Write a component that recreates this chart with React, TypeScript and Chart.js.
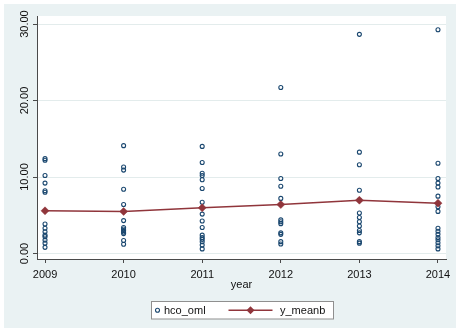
import React, { useEffect, useRef } from "react";
import { Chart, registerables } from "chart.js";

Chart.register(...registerables);

// Survey years on the x axis
const years = [2009, 2010, 2011, 2012, 2013, 2014];

// hco_oml observations, one list per year
const hco2009 = [12.4, 12.2, 10.2, 9.2, 8.2, 8.0, 3.85, 3.3, 2.85, 2.4, 2.2, 1.75, 1.35, 0.8];
const hco2010 = [14.1, 11.3, 10.9, 8.4, 6.4, 4.3, 3.4, 3.2, 3.0, 2.8, 2.6, 1.7, 1.2];
const hco2011 = [14.0, 11.9, 10.5, 10.2, 9.65, 8.5, 6.7, 5.15, 4.25, 3.4, 2.4, 2.1, 1.85, 1.55, 1.1, 0.6];
const hco2012 = [21.7, 13.0, 9.8, 8.8, 7.2, 4.4, 4.15, 3.9, 2.7, 2.5, 1.55, 1.25];
const hco2013 = [28.65, 13.25, 11.6, 8.27, 7.0, 5.3, 4.7, 4.15, 3.6, 3.0, 2.7, 1.55, 1.35];
const hco2014 = [29.25, 11.8, 9.8, 9.2, 8.7, 7.5, 6.1, 5.5, 3.3, 2.9, 2.5, 2.1, 1.8, 1.4, 1.0, 0.6];
const hcoByYear = [hco2009, hco2010, hco2011, hco2012, hco2013, hco2014];

// Yearly mean line
const yMeanb = [5.58, 5.5, 5.97, 6.4, 6.97, 6.58];

// Axis ticks and labels
const yTicks = [0, 10, 20, 30];
const yTickLabels = ["0.00", "10.00", "20.00", "30.00"];
const xTitle = "year";
const seriesLabels = ["hco_oml", "y_meanb"];

const FONT = '"Liberation Sans", Arial, Helvetica, sans-serif';
const AXIS = "#4a4a4a";
const NAVY = "#1a476f";
const MAROON = "#90353b";
const OUTER_BG = "#eaf2f3";
const GRID = "#e3ecec";

const framePlugin = {
  id: "frame",
  beforeDraw(chart: any) {
    const { ctx, chartArea: a, width, height } = chart;
    ctx.save();
    ctx.fillStyle = "#ffffff";
    ctx.fillRect(0, 0, width, height);
    ctx.fillStyle = OUTER_BG;
    ctx.fillRect(4, 4, width - 4, height - 9);
    ctx.fillStyle = "#ffffff";
    ctx.fillRect(a.left, a.top, a.right - a.left, a.bottom - a.top);
    ctx.restore();
  },
  afterDraw(chart: any) {
    const { ctx, chartArea: a, scales } = chart;
    const xs = scales.x;
    const ys = scales.y;
    ctx.save();
    ctx.fillStyle = "#111111";
    ctx.font = `11px ${FONT}`;

    // rotated y tick labels
    yTicks.forEach((v, i) => {
      ctx.save();
      ctx.translate(a.left - 8.7, ys.getPixelForValue(v));
      ctx.rotate(-Math.PI / 2);
      ctx.textAlign = "center";
      ctx.textBaseline = "alphabetic";
      ctx.fillText(yTickLabels[i], 0, 0);
      ctx.restore();
    });

    // x tick labels and axis title
    ctx.textAlign = "center";
    ctx.textBaseline = "alphabetic";
    years.forEach((v) => {
      ctx.fillText(String(v), xs.getPixelForValue(v), a.bottom + 19);
    });
    ctx.fillText(xTitle, (a.left + a.right) / 2, a.bottom + 29);

    // legend box
    const boxW = 182;
    const boxH = 17.5;
    const bx = Math.round((a.left + a.right) / 2 - boxW / 2) + 0.5;
    const by = 301.5;
    ctx.fillStyle = "#ffffff";
    ctx.fillRect(bx, by, boxW, boxH);
    ctx.strokeStyle = "#8f8f8f";
    ctx.lineWidth = 1;
    ctx.strokeRect(bx, by, boxW, boxH);
    const cy = by + boxH / 2;

    // hco_oml key
    ctx.beginPath();
    ctx.arc(bx + 6, cy, 2, 0, Math.PI * 2);
    ctx.strokeStyle = NAVY;
    ctx.lineWidth = 1.1;
    ctx.stroke();

    // y_meanb key
    ctx.beginPath();
    ctx.moveTo(bx + 77, cy);
    ctx.lineTo(bx + 121, cy);
    ctx.strokeStyle = MAROON;
    ctx.lineWidth = 1.5;
    ctx.stroke();
    const dx = bx + 99;
    ctx.beginPath();
    ctx.moveTo(dx, cy - 4);
    ctx.lineTo(dx + 4, cy);
    ctx.lineTo(dx, cy + 4);
    ctx.lineTo(dx - 4, cy);
    ctx.closePath();
    ctx.fillStyle = MAROON;
    ctx.fill();

    ctx.fillStyle = "#111111";
    ctx.textAlign = "left";
    ctx.fillText(seriesLabels[0], bx + 12.5, cy + 3.8);
    ctx.fillText(seriesLabels[1], bx + 128.5, cy + 3.8);
    ctx.restore();
  },
};

export default function App() {
  const canvasRef = useRef<HTMLCanvasElement | null>(null);

  useEffect(() => {
    const canvas = canvasRef.current;
    if (!canvas) return;

    const scatterPoints: { x: number; y: number }[] = [];
    hcoByYear.forEach((vals, i) => {
      vals.forEach((v) => scatterPoints.push({ x: years[i], y: v }));
    });
    const meanPoints = years.map((x, i) => ({ x, y: yMeanb[i] }));

    const chart = new Chart(canvas, {
      type: "scatter",
      data: {
        datasets: [
          {
            type: "scatter",
            label: seriesLabels[0],
            data: scatterPoints,
            pointStyle: "circle",
            pointRadius: 2,
            pointBorderWidth: 1.1,
            pointBorderColor: NAVY,
            pointBackgroundColor: "rgba(0,0,0,0)",
            order: 1,
          } as any,
          {
            type: "line",
            label: seriesLabels[1],
            data: meanPoints,
            borderColor: MAROON,
            borderWidth: 1.5,
            tension: 0,
            fill: false,
            pointStyle: "rectRot",
            pointRadius: 4,
            pointBorderWidth: 0.5,
            pointBorderColor: MAROON,
            pointBackgroundColor: MAROON,
            order: 0,
          } as any,
        ],
      },
      options: {
        responsive: false,
        animation: false,
        events: [],
        layout: { padding: { left: 0, top: 16, right: 10, bottom: 0 } },
        plugins: {
          legend: { display: false },
          tooltip: { enabled: false },
        },
        scales: {
          x: {
            type: "linear",
            min: 2008.898,
            max: 2014.102,
            afterBuildTicks: (s: any) => {
              s.ticks = years.map((v) => ({ value: v }));
            },
            afterFit: (s: any) => {
              s.height = 74;
            },
            ticks: { display: false },
            grid: {
              drawOnChartArea: false,
              drawTicks: true,
              tickLength: 4,
              tickColor: AXIS,
              tickWidth: 1,
            },
            border: { display: true, color: AXIS, width: 1 },
          },
          y: {
            type: "linear",
            min: -0.72,
            max: 31.05,
            afterBuildTicks: (s: any) => {
              s.ticks = yTicks.map((v) => ({ value: v }));
            },
            afterFit: (s: any) => {
              s.width = 37;
            },
            ticks: { display: false },
            grid: {
              color: GRID,
              lineWidth: 1,
              drawTicks: true,
              tickLength: 4,
              tickColor: AXIS,
              tickWidth: 1,
            },
            border: { display: true, color: AXIS, width: 1 },
          },
        },
      } as any,
      plugins: [framePlugin],
    });

    return () => chart.destroy();
  }, []);

  return (
    <div style={{ position: "fixed", left: 0, top: 0, width: 456, height: 333 }}>
      <canvas ref={canvasRef} width={456} height={333} style={{ display: "block" }} />
    </div>
  );
}
